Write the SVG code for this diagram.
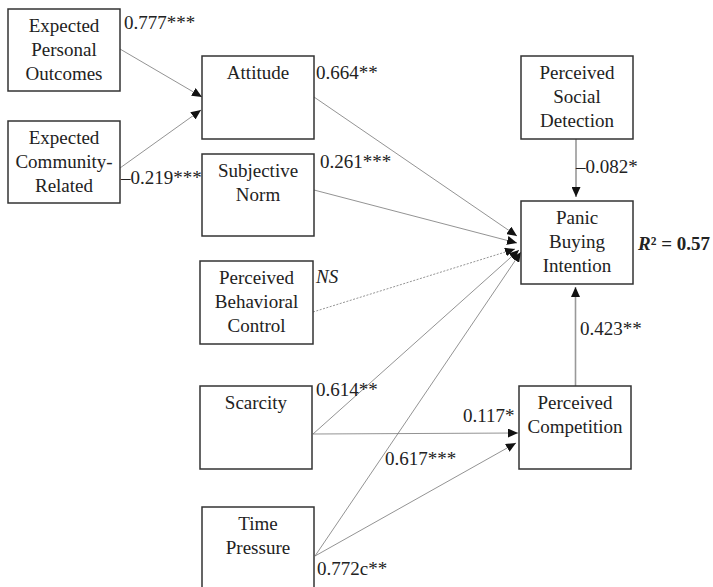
<svg xmlns="http://www.w3.org/2000/svg" width="713" height="587" viewBox="0 0 713 587" font-family="Liberation Serif, Times New Roman, serif">
<defs>
<marker id="ah" markerUnits="userSpaceOnUse" markerWidth="10" markerHeight="9" refX="10" refY="4.5" orient="auto">
<path d="M0,0 L10,4.5 L0,9 z" fill="#111"/>
</marker>
<style>
.box{fill:#fff;stroke:#333;stroke-width:1.5}
.t{font-size:19px;fill:#222;text-anchor:middle}
.l{font-size:19px;fill:#222}
.c{fill:none;stroke:#777;stroke-width:0.8;marker-end:url(#ah)}
.v{fill:none;stroke:#999;stroke-width:1.6;marker-end:url(#ah)}
.d{fill:none;stroke:#888;stroke-width:0.9;stroke-dasharray:2,1.5;marker-end:url(#ah)}
</style>
</defs>
<rect width="713" height="587" fill="#fff"/>
<g id="connectors">
<line class="c" x1="120" y1="49" x2="202" y2="97"/>
<line class="c" x1="120" y1="168" x2="201" y2="110"/>
<line class="c" x1="314" y1="97" x2="517" y2="236"/>
<line class="c" x1="314" y1="190" x2="517" y2="243"/>
<line class="d" x1="313" y1="312" x2="515" y2="249"/>
<line class="c" x1="313" y1="434" x2="519" y2="250"/>
<line class="c" x1="315" y1="556" x2="521" y2="252"/>
<line class="c" x1="313" y1="434" x2="518" y2="433"/>
<line class="c" x1="315" y1="556" x2="516" y2="443"/>
<line class="v" x1="576" y1="139" x2="576" y2="197"/>
<line class="v" x1="575.5" y1="386" x2="575.5" y2="287"/>
</g>
<g id="n-epo"><rect class="box" x="8" y="9" width="112" height="82"/><text class="t" x="64" y="32">Expected</text><text class="t" x="64" y="56">Personal</text><text class="t" x="64" y="80">Outcomes</text></g>
<g id="n-ecr"><rect class="box" x="8" y="121" width="112" height="82"/><text class="t" x="64" y="144">Expected</text><text class="t" x="64" y="168">Community-</text><text class="t" x="64" y="192">Related</text></g>
<g id="n-att"><rect class="box" x="202" y="56" width="112" height="83"/><text class="t" x="258" y="79">Attitude</text></g>
<g id="n-sn"><rect class="box" x="202" y="154" width="112" height="82"/><text class="t" x="258" y="177">Subjective</text><text class="t" x="258" y="201">Norm</text></g>
<g id="n-pbc"><rect class="box" x="200" y="261" width="113" height="83"/><text class="t" x="256.5" y="284">Perceived</text><text class="t" x="256.5" y="308">Behavioral</text><text class="t" x="256.5" y="332">Control</text></g>
<g id="n-sc"><rect class="box" x="200" y="386" width="112" height="83"/><text class="t" x="256" y="409">Scarcity</text></g>
<g id="n-tp"><rect class="box" x="202" y="507" width="112" height="90"/><text class="t" x="258" y="530">Time</text><text class="t" x="258" y="554">Pressure</text></g>
<g id="n-psd"><rect class="box" x="521" y="56" width="112" height="83"/><text class="t" x="577" y="79">Perceived</text><text class="t" x="577" y="103">Social</text><text class="t" x="577" y="127">Detection</text></g>
<g id="n-pbi"><rect class="box" x="521" y="201" width="112" height="83"/><text class="t" x="577" y="224">Panic</text><text class="t" x="577" y="248">Buying</text><text class="t" x="577" y="272">Intention</text></g>
<g id="n-pc"><rect class="box" x="519" y="386" width="112" height="83"/><text class="t" x="575" y="409">Perceived</text><text class="t" x="575" y="433">Competition</text></g>
<g id="labels">
<text class="l" x="124" y="29">0.777***</text>
<text class="l" x="121" y="184">–0.219***</text>
<text class="l" x="316" y="79">0.664**</text>
<text class="l" x="320" y="168">0.261***</text>
<text class="l" x="316" y="283" font-style="italic">NS</text>
<text class="l" x="316" y="396">0.614**</text>
<text class="l" x="463" y="422">0.117*</text>
<text class="l" x="385" y="465">0.617***</text>
<text class="l" x="317" y="575">0.772c**</text>
<text class="l" x="576" y="173">–0.082*</text>
<text class="l" x="580" y="335">0.423**</text>
<text class="l" x="638" y="250" font-weight="bold"><tspan font-style="italic">R</tspan>² = 0.57</text>
</g>
</svg>
